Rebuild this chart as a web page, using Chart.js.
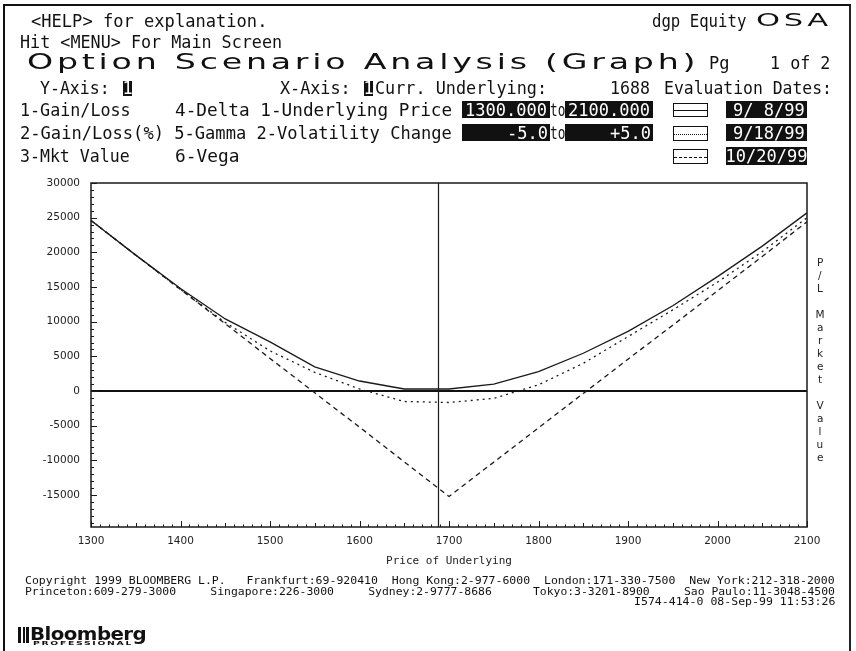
<!DOCTYPE html>
<html><head><meta charset="utf-8">
<script src="https://cdn.jsdelivr.net/npm/chart.js@4.4.1/dist/chart.umd.min.js"></script>
<style>
html,body{margin:0;padding:0;background:#fff;}
#wrap{position:relative;width:856px;height:651px;overflow:hidden;background:#fff;}
#frame{position:absolute;left:3px;top:4px;width:848px;height:700px;border-left:2.5px solid #111;border-top:2.5px solid #111;border-right:2px solid #222;box-sizing:border-box;}
canvas{position:absolute;left:0;top:0;}
.t{position:absolute;white-space:pre;color:#111;transform-origin:0 0;}
.bx{position:absolute;background:#111;}
.lg{position:absolute;border:1px solid #111;background:#fff;box-sizing:border-box;}
.lg i{position:absolute;left:0;right:0;top:50%;border-top:1px solid #111;}
</style></head>
<body><div id="wrap"><canvas id="c" width="856" height="651"></canvas><div id="frame"></div></div>
<script>
// ---------------- data ----------------
const prices   = [1300,1350,1400,1450,1500,1550,1600,1650,1700,1750,1800,1850,1900,1950,2000,2050,2100];
const valSep08 = [24600,19600,14800,10400,7100,3500,1450,300,300,1000,2800,5450,8600,12300,16500,20900,25700];
const valSep18 = [24600,19600,14650,9900,5800,2700,300,-1500,-1650,-1050,900,4000,7850,11700,15700,20100,25000];
const valOct20 = [24600,19600,14650,9700,4700,-250,-5200,-10200,-15200,-10250,-5300,-350,4600,9500,14450,19400,24400];
const seriesNames = ['9/ 8/99','9/18/99','10/20/99'];
const xTickLabels = [1300,1400,1500,1600,1700,1800,1900,2000,2100];
const yTickLabels = [-15000,-10000,-5000,0,5000,10000,15000,20000,25000,30000];
const currUnderlying = 1688;
const xRange = [1300,2100];
const yRange = [-19600,30000];

// ---------------- text helpers ----------------
const wrap = document.getElementById('wrap');
function topFor(yc, fs, lh){ return yc - ((lh - 1.164*fs)/2 + 0.928*fs - 0.729*fs/2); }
function T(text, x, yc, w, opt){
  opt = opt || {};
  const fs = opt.fs || 17, lh = opt.lh || Math.round(fs*1.1);
  const el = document.createElement('div');
  el.className = 't';
  el.textContent = text;
  el.style.fontFamily = opt.ff || '"DejaVu Sans Mono", monospace';
  el.style.fontSize = fs + 'px';
  el.style.lineHeight = lh + 'px';
  if (opt.weight) el.style.fontWeight = opt.weight;
  if (opt.ls) el.style.letterSpacing = opt.ls + 'px';
  if (opt.color) el.style.color = opt.color;
  el.style.left = x + 'px';
  el.style.top = topFor(yc, fs, lh) + 'px';
  wrap.appendChild(el);
  if (w) { const nat = el.offsetWidth - (opt.ls||0); el.style.transform = 'scaleX(' + (w/nat) + ')'; }
  return el;
}
function BOX(text, x, y, w, h, yc, align){
  const b = document.createElement('div');
  b.className = 'bx';
  b.style.left = x+'px'; b.style.top = y+'px'; b.style.width = w+'px'; b.style.height = h+'px';
  wrap.appendChild(b);
  const el = T(text, 0, yc, null, {color:'#fff'});
  const nat = el.offsetWidth;
  el.style.left = (align==='right' ? (x + w - nat - 2) : (x + (w-nat)/2)) + 'px';
  return b;
}
function LEG(x, y, w, h, style){
  const d = document.createElement('div');
  d.className = 'lg';
  d.style.left = x+'px'; d.style.top = y+'px'; d.style.width = w+'px'; d.style.height = h+'px';
  const i = document.createElement('i'); i.style.borderTopStyle = style;
  d.appendChild(i); wrap.appendChild(d);
}

// ---------------- header ----------------
T('<HELP> for explanation.', 31, 21.5, 236);
T('dgp Equity', 652, 21.5, 94);
T('OSA', 756, 20.5, 72, {ff:'"DejaVu Sans", sans-serif', fs:17, ls:2});
T('Hit <MENU> For Main Screen', 20, 42.5, 262);
T('Option Scenario Analysis (Graph)', 27, 61.5, 668, {ff:'"DejaVu Sans", sans-serif', fs:22, ls:2.5});
T('Pg', 709, 63.5, 20);
T('1 of 2', 770, 63.5, 60);

T('Y-Axis:', 40, 88.3, 70);
BOX('1', 123, 81, 9, 15, 88.3, 'center');
T('X-Axis:', 280, 88.3, 71);
BOX('1', 364, 81, 9, 15, 88.3, 'center');
T('Curr. Underlying:', 375, 88.3, 172);
T('1688', 610, 88.3, 40);
T('Evaluation Dates:', 664, 88.3, 168);

T('1-Gain/Loss', 20, 110.5, 111);
T('4-Delta 1-Underlying Price', 175, 110.5, 277);
BOX('1300.000', 462, 101, 88, 17, 110.5, 'center');
T('to', 550, 110.5, 15);
BOX('2100.000', 565, 101, 88, 17, 110.5, 'center');
LEG(673, 103, 35, 14, 'solid');
BOX(seriesNames[0], 726, 101, 81, 17, 110.5, 'right');

T('2-Gain/Loss(%) 5-Gamma 2-Volatility Change', 20, 133.5, 432);
BOX('-5.0', 462, 124, 88, 17, 133.5, 'right');
T('to', 550, 133.5, 15);
BOX('+5.0', 565, 124, 88, 17, 133.5, 'right');
LEG(673, 126, 35, 15, 'dotted');
BOX(seriesNames[1], 726, 124, 81, 17, 133.5, 'right');

T('3-Mkt Value', 20, 156.5, 110);
T('6-Vega', 175, 156.5, 64);
LEG(673, 149, 35, 15, 'dashed');
BOX(seriesNames[2], 726, 147, 81, 18, 156.5, 'center');

// right vertical axis label
const sideLabel = 'P/L Market Value';
for (let i = 0; i < sideLabel.length; i++) {
  if (sideLabel[i] === ' ') continue;
  const el = T(sideLabel[i], 0, 262 + 13*i, null, {ff:'"DejaVu Sans", sans-serif', fs:10.5, color:'#222'});
  el.style.left = (820 - el.offsetWidth/2) + 'px';
}

// footer
const foot1 = 'Copyright 1999 BLOOMBERG L.P.   Frankfurt:69-920410  Hong Kong:2-977-6000  London:171-330-7500  New York:212-318-2000';
const foot2 = 'Princeton:609-279-3000     Singapore:226-3000     Sydney:2-9777-8686      Tokyo:3-3201-8900     Sao Paulo:11-3048-4500';
const foot3 = 'I574-414-0 08-Sep-99 11:53:26';
T(foot1, 25, 580, 810, {fs:10.5, lh:10});
T(foot2, 25, 590.5, 810, {fs:10.5, lh:10});
T(foot3, 634, 601, 201, {fs:10.5, lh:10});

// logo
[[18,3],[22.5,2.5],[26,2.5]].forEach(([lx,lw])=>{
  const b=document.createElement('div'); b.className='bx';
  b.style.left=lx+'px'; b.style.top='627px'; b.style.width=lw+'px'; b.style.height='16px'; wrap.appendChild(b);
});
T('Bloomberg', 30, 633.5, 117, {ff:'"DejaVu Sans", sans-serif', fs:18, weight:'bold', ls:-0.5});
T('PROFESSIONAL', 33, 643, 98, {ff:'"DejaVu Sans", sans-serif', fs:5.5, lh:6, weight:'bold', ls:1});

// ---------------- chart ----------------
const decor = {
  id: 'decor',
  afterDatasetsDraw(chart) {
    const {ctx, chartArea: a, scales: {x, y}} = chart;
    ctx.save();
    ctx.strokeStyle = '#1a1a1a';
    // current underlying marker
    const vx = Math.round(x.getPixelForValue(currUnderlying)) + 0.5;
    ctx.lineWidth = 1.2;
    ctx.beginPath(); ctx.moveTo(vx, a.top); ctx.lineTo(vx, a.bottom); ctx.stroke();
    // frame
    ctx.lineWidth = 1.5;
    ctx.strokeRect(a.left, a.top, a.right - a.left, a.bottom - a.top);
    // minor ticks
    ctx.lineWidth = 1;
    ctx.beginPath();
    for (let v = xRange[0]; v <= xRange[1]; v += 10) {
      const px = Math.round(x.getPixelForValue(v)) + 0.5;
      const len = v % 100 === 0 ? 6 : (v % 50 === 0 ? 4 : 2.5);
      ctx.moveTo(px, a.bottom); ctx.lineTo(px, a.bottom - len);
    }
    for (let v = -19000; v <= yRange[1]; v += 1000) {
      const py = Math.round(y.getPixelForValue(v)) + 0.5;
      const len = v % 5000 === 0 ? 6 : 3;
      ctx.moveTo(a.left, py); ctx.lineTo(a.left + len, py);
    }
    ctx.stroke();
    ctx.restore();
  }
};

const mk = vals => prices.map((p, i) => ({x: p, y: vals[i]}));
const lineCol = '#1a1a1a';

new Chart(document.getElementById('c'), {
  type: 'line',
  data: {
    datasets: [
      {label: seriesNames[0], data: mk(valSep08), borderColor: lineCol, borderWidth: 1.3, pointRadius: 0, tension: 0},
      {label: seriesNames[1], data: mk(valSep18), borderColor: lineCol, borderWidth: 1.3, borderDash: [2, 4], pointRadius: 0, tension: 0},
      {label: seriesNames[2], data: mk(valOct20), borderColor: lineCol, borderWidth: 1.3, borderDash: [5, 4], pointRadius: 0, tension: 0}
    ]
  },
  options: {
    responsive: false,
    animation: false,
    devicePixelRatio: 1,
    layout: {padding: {left: 0, top: 183, right: 49, bottom: 79}},
    plugins: {legend: {display: false}, tooltip: {enabled: false}},
    scales: {
      x: {
        type: 'linear', min: xRange[0], max: xRange[1],
        afterFit: s => { s.height = 45; },
        afterBuildTicks: s => { s.ticks = xTickLabels.map(v => ({value: v})); },
        grid: {display: false, drawTicks: false},
        border: {display: false},
        ticks: {padding: 8, color: '#222', font: {family: '"DejaVu Sans", sans-serif', size: 10.5}, maxRotation: 0, autoSkip: false,
                callback: v => String(v)},
        title: {display: true, text: 'Price of Underlying', color: '#222', padding: {top: 0, bottom: 4},
                font: {family: '"DejaVu Sans Mono", monospace', size: 11}}
      },
      y: {
        type: 'linear', min: yRange[0], max: yRange[1],
        afterFit: s => { s.width = 91; },
        afterBuildTicks: s => { s.ticks = yTickLabels.map(v => ({value: v})); },
        grid: {
          drawTicks: false,
          color: c => (c.tick && c.tick.value === 0) ? '#111' : 'rgba(0,0,0,0)',
          lineWidth: c => (c.tick && c.tick.value === 0) ? 2 : 0
        },
        border: {display: false},
        ticks: {padding: 11, color: '#222', font: {family: '"DejaVu Sans", sans-serif', size: 10.5}, autoSkip: false,
                callback: v => String(v)}
      }
    }
  },
  plugins: [decor]
});
</script>
</body></html>
